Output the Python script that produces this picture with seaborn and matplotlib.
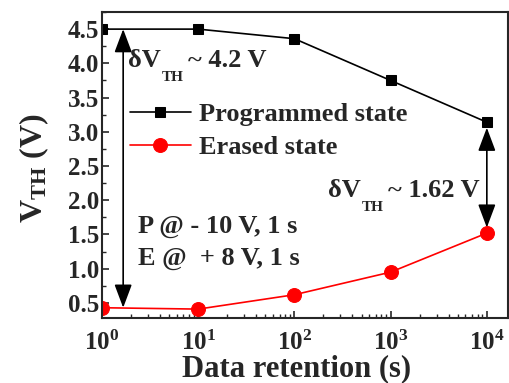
import matplotlib
matplotlib.use("Agg")
import matplotlib.pyplot as plt
import seaborn as sns
import pandas as pd
import numpy as np
from matplotlib.ticker import LogLocator, MultipleLocator, FixedLocator

retention = [1, 10, 100, 1000, 10000]
programmed = [4.50, 4.50, 4.36, 3.75, 3.14]
erased = [0.43, 0.41, 0.62, 0.95, 1.52]
yticks = [0.5, 1.0, 1.5, 2.0, 2.5, 3.0, 3.5, 4.0, 4.5]

sns.set_style("ticks")
plt.rcParams['font.family'] = ['Liberation Serif', 'DejaVu Serif']
plt.rcParams['font.weight'] = 'bold'
plt.rcParams['mathtext.fontset'] = 'custom'
plt.rcParams['mathtext.rm'] = 'Liberation Serif:bold'
plt.rcParams['mathtext.it'] = 'Liberation Serif:bold'
plt.rcParams['mathtext.bf'] = 'Liberation Serif:bold'

df = pd.DataFrame({
    "t": retention * 2,
    "v": programmed + erased,
    "state": ["Programmed state"] * 5 + ["Erased state"] * 5,
})

W, H = 510, 383
fig = plt.figure(figsize=(W / 100, H / 100), dpi=100)
ax = fig.add_axes([102 / W, 1 - 318 / H, (508 - 102) / W, (318 - 12) / H])

sns.lineplot(data=df[df.state == "Programmed state"], x="t", y="v", ax=ax,
             color="black", marker="s", markersize=7, linewidth=1.2,
             markeredgecolor="black", label="Programmed state")
sns.lineplot(data=df[df.state == "Erased state"], x="t", y="v", ax=ax,
             color="red", marker="o", markersize=10, linewidth=1.2,
             markeredgecolor="red", label="Erased state")

ax.set_xscale("log")
ax.set_xlim(1, 10 ** 4.22)
ax.set_ylim(0.28, 4.75)
ax.yaxis.set_major_locator(FixedLocator(yticks))
ax.yaxis.set_minor_locator(MultipleLocator(0.25))
ax.xaxis.set_major_locator(LogLocator(base=10, numticks=10))
ax.xaxis.set_minor_locator(LogLocator(base=10, subs=np.arange(2, 10), numticks=10))
ax.tick_params(axis="both", which="major", direction="in", length=5, width=1.2,
               labelsize=18, pad=2)
ax.tick_params(axis="both", which="minor", direction="in", length=3, width=1)
ax.tick_params(axis="x", which="major", pad=9)
for s in ax.spines.values():
    s.set_linewidth(1.5)
    s.set_visible(True)

ax.set_xlabel("Data retention (s)", fontsize=22, fontweight="bold")
ax.xaxis.set_label_coords(0.478, -0.118)
ax.set_ylabel(r"V$_{\mathrm{TH}}$ (V)", fontsize=23, fontweight="bold")
ax.yaxis.set_label_coords(-0.125, 0.49)

leg = ax.legend(loc="center left", bbox_to_anchor=(130 / W, 1 - 131 / H),
                bbox_transform=fig.transFigure, frameon=False,
                fontsize=19, handlelength=2.3, handletextpad=0.3,
                labelspacing=0.35, borderaxespad=0, borderpad=0)

ap = dict(arrowstyle="<|-|>,head_length=0.8,head_width=0.3", color="black",
          lw=1.2, mutation_scale=18, shrinkA=0, shrinkB=0)
ax.annotate("", xy=(1.66, 4.5), xytext=(1.66, 0.43), arrowprops=ap)
ax.annotate("", xy=(10000, 3.06), xytext=(10000, 1.60), arrowprops=ap)


def delta_label(x, y, value):
    t1 = ax.text(x, y, "δV", fontsize=19, va="baseline")
    t2 = ax.annotate("TH", xy=(1, 0), xycoords=t1, xytext=(1, -9),
                     textcoords="offset points", fontsize=11, va="bottom")
    ax.annotate("~ " + value, xy=(1, 0), xycoords=t2, xytext=(3, 9),
                textcoords="offset points", fontsize=19, va="bottom")


delta_label(1.86, 3.95, "4.2 V")
delta_label(223, 2.05, "1.62 V")
ax.text(2.37, 1.52, "P @ - 10 V, 1 s", fontsize=19, va="baseline")
ax.text(2.37, 1.055, "E @  + 8 V, 1 s", fontsize=19, va="baseline")

fig.savefig("out.png", dpi=100)
